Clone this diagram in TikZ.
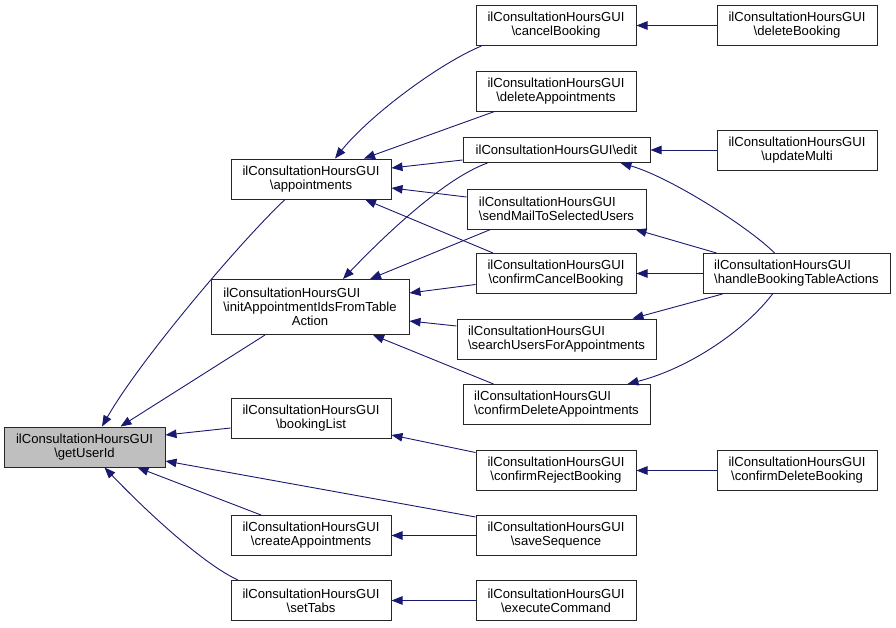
\documentclass[tikz,border=0pt]{standalone}
\usepackage{fontspec}
\setmainfont{Liberation Sans}
\usetikzlibrary{arrows.meta,calc}
\definecolor{edgecol}{HTML}{191970}
\definecolor{hilite}{HTML}{BFBFBF}
\newcommand\BSL{\textbackslash}
\begin{document}
\begin{tikzpicture}[x=1pt,y=-1pt,
  fn/.style={draw=black!85, line width=1pt, fill=white, inner sep=0pt,
    font=\fontsize{13.1}{14}\selectfont, align=center,
    minimum width=160pt, minimum height=40pt},
  fnl/.style={fn, align=left},
  edge/.style={draw=edgecol, line width=0.9pt, -{Triangle[length=11pt,width=8.5pt]}},
]
\useasboundingbox (0,0) rectangle (896,627);

% column 1
\node[fn, fill=hilite, minimum width=161pt] (getUserId) at (84.5,447) {ilConsultationHoursGUI\\\BSL getUserId};
% column 2
\node[fn] (appointments) at (311,179) {ilConsultationHoursGUI\\\BSL appointments};
\node[fn, minimum width=198pt, minimum height=55pt] (init) at (310,307)
  {\rlap{ilConsultationHoursGUI}\phantom{\BSL initAppointmentIdsFromTable}\\\BSL initAppointmentIdsFromTable\\Action};
\node[fn] (bookingList) at (311,418) {ilConsultationHoursGUI\\\BSL bookingList};
\node[fn] (createAppointments) at (311,535.5) {ilConsultationHoursGUI\\\BSL createAppointments};
\node[fn] (setTabs) at (311,600.5) {ilConsultationHoursGUI\\\BSL setTabs};
% column 3
\node[fn] (cancelBooking) at (556,25.5) {ilConsultationHoursGUI\\\BSL cancelBooking};
\node[fn] (deleteAppointments) at (556,91) {ilConsultationHoursGUI\\\BSL deleteAppointments};
\node[fn, minimum width=187pt, minimum height=25pt] (edit) at (556.5,150) {ilConsultationHoursGUI\BSL edit};
\node[fnl, minimum width=179pt] (sendMail) at (556.5,209) {ilConsultationHoursGUI\\\BSL sendMailToSelectedUsers};
\node[fn] (confirmCancelBooking) at (556,273.5) {ilConsultationHoursGUI\\\BSL confirmCancelBooking};
\node[fnl, minimum width=199pt] (searchUsers) at (556.5,339) {ilConsultationHoursGUI\\\BSL searchUsersForAppointments};
\node[fnl, minimum width=187pt] (confirmDeleteAppointments) at (556.5,404.5) {ilConsultationHoursGUI\\\BSL confirmDeleteAppointments};
\node[fn] (confirmRejectBooking) at (556,470.5) {ilConsultationHoursGUI\\\BSL confirmRejectBooking};
\node[fn] (saveSequence) at (556,535.5) {ilConsultationHoursGUI\\\BSL saveSequence};
\node[fn] (executeCommand) at (556,600.5) {ilConsultationHoursGUI\\\BSL executeCommand};
% column 4
\node[fn] (deleteBooking) at (797,25.5) {ilConsultationHoursGUI\\\BSL deleteBooking};
\node[fn] (updateMulti) at (797,150) {ilConsultationHoursGUI\\\BSL updateMulti};
\node[fnl, minimum width=187pt] (handle) at (796.5,273.5) {ilConsultationHoursGUI\\\BSL handleBookingTableActions};
\node[fn] (confirmDeleteBooking) at (797,470.5) {ilConsultationHoursGUI\\\BSL confirmDeleteBooking};

% edges into getUserId
\draw[edge] ($(appointments.south)+(-26,0)$) .. controls (240,242) and (140,360) .. ($(getUserId.north)+(17.5,0)$);
\draw[edge] ($(init.south)+(-45,0)$) -- ($(getUserId.north)+(36,0)$);
\draw[edge] ($(bookingList.west)+(0,10)$) -- ($(getUserId.east)+(0,-12)$);
\draw[edge] ($(saveSequence.north west)+(0,2)$) -- ($(getUserId.east)+(0,14)$);
\draw[edge] ($(createAppointments.north)+(-50,0)$) -- ($(getUserId.south)+(53,0)$);
\draw[edge] ($(setTabs.north)+(-73,0)$) .. controls (205,565) and (150,515) .. ($(getUserId.south)+(20,0)$);

% edges into appointments
\draw[edge] ($(cancelBooking.south west)+(6,0)$) .. controls (440,63) and (370,115) .. ($(appointments.north)+(24,0)$);
\draw[edge] ($(deleteAppointments.south west)+(19,0)$) -- ($(appointments.north)+(53,0)$);
\draw[edge] ($(edit.west)+(0,10)$) -- ($(appointments.east)+(0,-11)$);
\draw[edge] ($(sendMail.west)+(0,-12)$) -- ($(appointments.east)+(0,9)$);
\draw[edge] ($(confirmCancelBooking.north)+(-63,0)$) -- ($(appointments.south)+(54,0)$);

% edges into init
\draw[edge] ($(edit.south)+(-69,0)$) .. controls (445,178) and (385,235) .. ($(init.north)+(33,0)$);
\draw[edge] ($(sendMail.south)+(-66,0)$) -- ($(init.north)+(60,0)$);
\draw[edge] ($(confirmCancelBooking.west)+(0,11)$) -- ($(init.east)+(0,-14)$);
\draw[edge] ($(searchUsers.west)+(0,-13)$) -- ($(init.east)+(0,14)$);
\draw[edge] ($(confirmDeleteAppointments.north)+(-63,0)$) -- ($(init.south)+(63,0)$);

% right-hand edges
\draw[edge] (deleteBooking.west) -- (cancelBooking.east);
\draw[edge] (updateMulti.west) -- (edit.east);
\draw[edge] ($(handle.north)+(-22,0)$) .. controls (750,228) and (670,177) .. ($(edit.south)+(64,0)$);
\draw[edge] ($(handle.north west)+(14,0)$) -- ($(sendMail.south east)+(-11,0)$);
\draw[edge] (handle.west) -- (confirmCancelBooking.east);
\draw[edge] ($(handle.south west)+(20,0)$) -- ($(searchUsers.north east)+(-24,0)$);
\draw[edge] ($(handle.south)+(-24,0)$) .. controls (745,330) and (690,368) .. ($(confirmDeleteAppointments.north)+(71,0)$);
\draw[edge] ($(confirmRejectBooking.west)+(0,-18)$) -- ($(bookingList.east)+(0,17)$);
\draw[edge] (confirmDeleteBooking.west) -- (confirmRejectBooking.east);
\draw[edge] (saveSequence.west) -- (createAppointments.east);
\draw[edge] (executeCommand.west) -- (setTabs.east);
\end{tikzpicture}
\end{document}
